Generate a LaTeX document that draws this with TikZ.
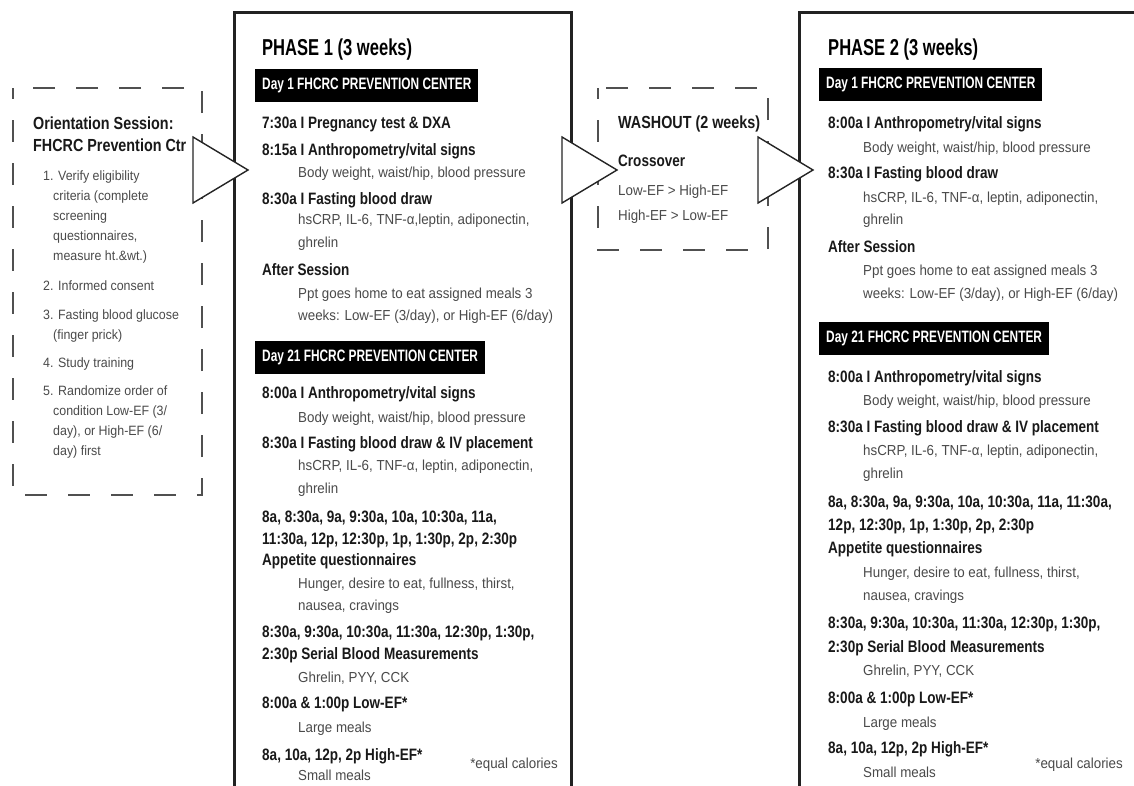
\documentclass[tikz,border=0pt]{standalone}
\usepackage{fontspec}
\setmainfont{Liberation Sans}[FakeStretch=0.92]
\newfontfamily\condfont{Liberation Sans}[FakeStretch=0.82]
\newfontfamily\headfont{Liberation Sans}[FakeStretch=0.72]

\definecolor{txtgray}{HTML}{4A4A4A}
\definecolor{dashgray}{HTML}{505050}
\definecolor{linegray}{HTML}{222222}

\begin{document}
\begin{tikzpicture}[x=1pt, y=-1pt, inner sep=0pt,
    phasebox/.style={draw=linegray, line width=3pt},
    dashbox/.style={draw=dashgray, line width=2pt, dash pattern=on 22pt off 21pt, dash phase=11pt},
    flowtri/.style={draw=black!85, fill=white, line width=1.4pt, line join=miter},
    phasehead/.style={anchor=base west, font=\headfont\bfseries\fontsize{23}{27}\selectfont},
    daylabel/.style={anchor=west, fill=black, text=white, inner xsep=7pt, minimum height=33pt,
                     font=\headfont\bfseries\fontsize{16.5}{19}\selectfont},
    subhead/.style={anchor=base west, text=black!90, font=\condfont\bfseries\fontsize{17.5}{21}\selectfont},
    item/.style={anchor=base west, text=black!90, font=\condfont\bfseries\fontsize{16.5}{20}\selectfont},
    note/.style={anchor=base west, text=txtgray, font=\fontsize{14.5}{18}\selectfont},
    leftnote/.style={anchor=base west, text=txtgray, font=\fontsize{13.5}{18}\selectfont}]

  \useasboundingbox (0,0) rectangle (1134,785);
  \fill[white] (0,0) rectangle (1134,785);

  % frames
  \draw[phasebox] (234,800) -- (234,12) -- (571,12) -- (571,800);
  \draw[phasebox] (799,800) -- (799,12) -- (1145,12);
  \draw[dashbox] (13,88) rectangle (202,495);
  \draw[dashbox] (598,88) rectangle (768,250);

  % orientation
  \node[subhead]  (or1)  at (33,129) {Orientation Session:};
  \node[subhead]  (or2)  at (33,151) {FHCRC Prevention Ctr};
  \node[leftnote] (ori1) at (43,180) {1. Verify eligibility};
  \node[leftnote] (ori1a) at (53,200) {criteria (complete};
  \node[leftnote] (ori1b) at (53,220) {screening};
  \node[leftnote] (ori1c) at (53,240) {questionnaires,};
  \node[leftnote] (ori1d) at (53,260) {measure ht.\&wt.)};
  \node[leftnote] (ori2) at (43,290) {2. Informed consent};
  \node[leftnote] (ori3) at (43,319) {3. Fasting blood glucose};
  \node[leftnote] (ori3a) at (53,339) {(finger prick)};
  \node[leftnote] (ori4) at (43,367) {4. Study training};
  \node[leftnote] (ori5) at (43,395) {5. Randomize order of};
  \node[leftnote] (ori5a) at (53,415) {condition Low-EF (3/};
  \node[leftnote] (ori5b) at (53,435) {day), or High-EF (6/};
  \node[leftnote] (ori5c) at (53,455) {day) first};

  % phase 1
  \node[phasehead] (p1head) at (262,55) {PHASE 1 (3 weeks)};
  \node[daylabel] (p1day1) at (255,85) {Day 1 FHCRC PREVENTION CENTER};
  \node[item] (p1a)  at (262,128) {7:30a I Pregnancy test \& DXA};
  \node[item] (p1b)  at (262,155) {8:15a I Anthropometry/vital signs};
  \node[note] (p1b1) at (298,177) {Body weight, waist/hip, blood pressure};
  \node[item] (p1c)  at (262,204) {8:30a I Fasting blood draw};
  \node[note] (p1c1) at (298,224) {hsCRP, IL-6, TNF-α,leptin, adiponectin,};
  \node[note] (p1c2) at (298,247) {ghrelin};
  \node[item] (p1d)  at (262,275) {After Session};
  \node[note] (p1d1) at (298,298) {Ppt goes home to eat assigned meals 3};
  \node[note] (p1d2) at (298,320) {weeks: Low-EF (3/day), or High-EF (6/day)};

  \node[daylabel] (p1day21) at (255,357) {Day 21 FHCRC PREVENTION CENTER};
  \node[item] (p1e)  at (262,398) {8:00a I Anthropometry/vital signs};
  \node[note] (p1e1) at (298,422) {Body weight, waist/hip, blood pressure};
  \node[item] (p1f)  at (262,448) {8:30a I Fasting blood draw \& IV placement};
  \node[note] (p1f1) at (298,470) {hsCRP, IL-6, TNF-α, leptin, adiponectin,};
  \node[note] (p1f2) at (298,493) {ghrelin};
  \node[item] (p1g)  at (262,522) {8a, 8:30a, 9a, 9:30a, 10a, 10:30a, 11a,};
  \node[item] (p1g1) at (262,544) {11:30a, 12p, 12:30p, 1p, 1:30p, 2p, 2:30p};
  \node[item] (p1g2) at (262,565) {Appetite questionnaires};
  \node[note] (p1g3) at (298,588) {Hunger, desire to eat, fullness, thirst,};
  \node[note] (p1g4) at (298,610) {nausea, cravings};
  \node[item] (p1h)  at (262,637) {8:30a, 9:30a, 10:30a, 11:30a, 12:30p, 1:30p,};
  \node[item] (p1h1) at (262,659) {2:30p Serial Blood Measurements};
  \node[note] (p1h2) at (298,682) {Ghrelin, PYY, CCK};
  \node[item] (p1i)  at (262,708) {8:00a \& 1:00p Low-EF*};
  \node[note] (p1i1) at (298,732) {Large meals};
  \node[item] (p1j)  at (262,760) {8a, 10a, 12p, 2p High-EF*};
  \node[note] (p1j1) at (298,780) {Small meals};
  \node[note, anchor=base east] (p1eq) at (558,768) {*equal calories};

  % washout
  \node[subhead] (wohead) at (618,128) {WASHOUT (2 weeks)};
  \node[item]    (wo1)    at (618,166) {Crossover};
  \node[note]    (wo2)    at (618,195) {Low-EF > High-EF};
  \node[note]    (wo3)    at (618,220) {High-EF > Low-EF};

  % phase 2
  \node[phasehead] (p2head) at (828,55) {PHASE 2 (3 weeks)};
  \node[daylabel] (p2day1) at (819,84) {Day 1 FHCRC PREVENTION CENTER};
  \node[item] (p2a)  at (828,128) {8:00a I Anthropometry/vital signs};
  \node[note] (p2a1) at (863,152) {Body weight, waist/hip, blood pressure};
  \node[item] (p2b)  at (828,178) {8:30a I Fasting blood draw};
  \node[note] (p2b1) at (863,202) {hsCRP, IL-6, TNF-α, leptin, adiponectin,};
  \node[note] (p2b2) at (863,224) {ghrelin};
  \node[item] (p2c)  at (828,252) {After Session};
  \node[note] (p2c1) at (863,275) {Ppt goes home to eat assigned meals 3};
  \node[note] (p2c2) at (863,298) {weeks: Low-EF (3/day), or High-EF (6/day)};

  \node[daylabel] (p2day21) at (819,338) {Day 21 FHCRC PREVENTION CENTER};
  \node[item] (p2d)  at (828,382) {8:00a I Anthropometry/vital signs};
  \node[note] (p2d1) at (863,405) {Body weight, waist/hip, blood pressure};
  \node[item] (p2e)  at (828,432) {8:30a I Fasting blood draw \& IV placement};
  \node[note] (p2e1) at (863,455) {hsCRP, IL-6, TNF-α, leptin, adiponectin,};
  \node[note] (p2e2) at (863,478) {ghrelin};
  \node[item] (p2f)  at (828,507) {8a, 8:30a, 9a, 9:30a, 10a, 10:30a, 11a, 11:30a,};
  \node[item] (p2f1) at (828,530) {12p, 12:30p, 1p, 1:30p, 2p, 2:30p};
  \node[item] (p2f2) at (828,553) {Appetite questionnaires};
  \node[note] (p2f3) at (863,577) {Hunger, desire to eat, fullness, thirst,};
  \node[note] (p2f4) at (863,600) {nausea, cravings};
  \node[item] (p2g)  at (828,628) {8:30a, 9:30a, 10:30a, 11:30a, 12:30p, 1:30p,};
  \node[item] (p2g1) at (828,652) {2:30p Serial Blood Measurements};
  \node[note] (p2g2) at (863,675) {Ghrelin, PYY, CCK};
  \node[item] (p2h)  at (828,703) {8:00a \& 1:00p Low-EF*};
  \node[note] (p2h1) at (863,727) {Large meals};
  \node[item] (p2i)  at (828,753) {8a, 10a, 12p, 2p High-EF*};
  \node[note] (p2i1) at (863,777) {Small meals};
  \node[note, anchor=base east] (p2eq) at (1123,768) {*equal calories};

  % open arrow heads between the stages
  \foreach \bx in {193,562,758}
    \draw[flowtri] (\bx,137) -- ++(55,33) -- ++(-55,33) -- cycle;

\end{tikzpicture}
\end{document}
